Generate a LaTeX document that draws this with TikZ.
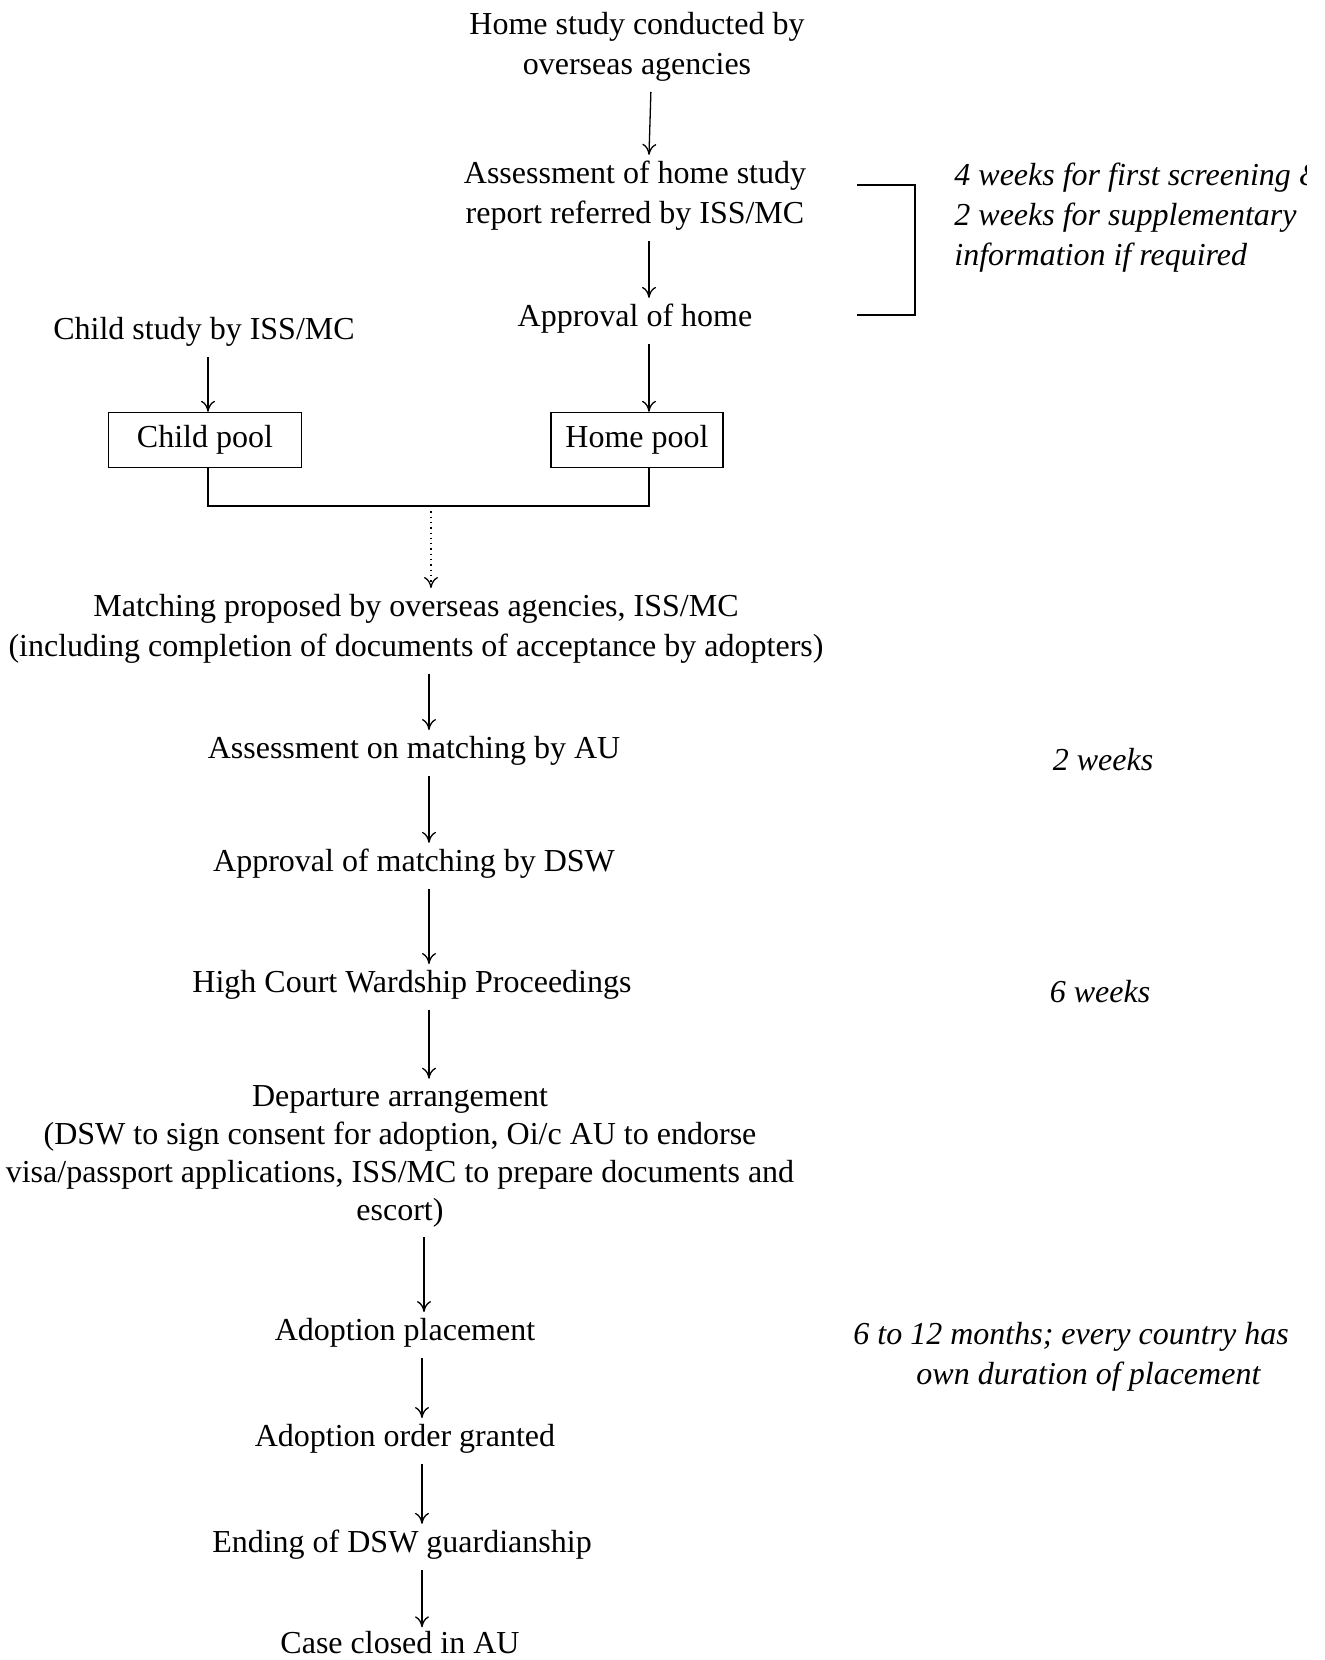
\documentclass[tikz,border=0pt]{standalone}
\usepackage{fontspec}
\setmainfont{Liberation Serif}
\usetikzlibrary{arrows.meta}
\begin{document}
\begin{tikzpicture}[x=0.5pt,y=-0.5pt,
  every node/.style={font=\fontsize{16}{20}\selectfont, inner sep=3pt},
  txt/.style={align=center},
  note/.style={font=\fontsize{16}{20}\selectfont\itshape},
  pool/.style={draw, line width=0.7pt, minimum height=27.5pt},
  arr/.style={-{To[length=5.5pt,width=7pt]}, line width=0.65pt, shorten <=2pt},
  link/.style={line width=0.7pt}]
\useasboundingbox (0,0) rectangle (1325,1660);
% nodes
\node[txt] (home) at (637,47) {Home study conducted by\\overseas agencies};
\node[txt] (assess) at (635,196) {Assessment of home study\\report referred by ISS/MC};
\node (approve) at (635,319) {Approval of home};
\node (child) at (204,332) {Child study by ISS/MC};
\node[pool, minimum width=96.5pt] (cpool) at (205,440) {Child pool};
\node[pool, minimum width=86pt] (hpool) at (637,440) {Home pool};
\node[txt] (match) at (416,629) {Matching proposed by overseas agencies, ISS/MC\\(including completion of documents of acceptance by adopters)};
\node (amatch) at (414,751) {Assessment on matching by AU};
\node (apmatch) at (414,864) {Approval of matching by DSW};
\node (court) at (412,985) {High Court Wardship Proceedings};
\node[txt, font=\fontsize{16}{19}\selectfont] (depart) at (400,1156) {Departure arrangement\\(DSW to sign consent for adoption, Oi/c AU to endorse\\visa/passport applications, ISS/MC to prepare documents and\\escort)};
\node (place) at (405,1333) {Adoption placement};
\node (order) at (405,1439) {Adoption order granted};
\node (ending) at (402,1545) {Ending of DSW guardianship};
\node[inner sep=1pt] (closed) at (400,1643) {Case closed in AU};
% notes
\begin{scope}
\clip (900,150) rectangle (1306,280);
\node[note, align=left, anchor=west] (n1) at (948,218) {4 weeks for first screening \&\\2 weeks for supplementary\\information if required};
\end{scope}
\node[note] (n2) at (1103,760) {2 weeks};
\node[note] (n3) at (1100,992) {6 weeks};
\node[note, align=left, anchor=west] (n4) at (847,1357) {6 to 12 months; every country has\\\hspace*{31.5pt}own duration of placement};
% bracket
\coordinate (b1) at (857,185);
\coordinate (b2) at (857,315);
\draw[link] (b1) -- ++(58,0) |- (b2);
% arrows
\draw[arr] ([xshift=7pt]home.south) -- ([xshift=7pt]assess.north);
\draw[arr] ([xshift=7pt]assess.south) -- ([xshift=7pt]approve.north);
\draw[arr] ([xshift=2pt]child.south) -- ([xshift=1.5pt]cpool.north);
\draw[arr] ([xshift=7pt]approve.south) -- ([xshift=6pt]hpool.north);
\coordinate (m) at (431,506);
\draw[link] ([xshift=1.5pt]cpool.south) |- (m) -| ([xshift=6pt]hpool.south);
\draw[arr, dotted, shorten <=0pt] (m) -- ([xshift=7.5pt]match.north);
\draw[arr] ([xshift=6.5pt]match.south) -- ([xshift=7.5pt]amatch.north);
\draw[arr] ([xshift=7.5pt]amatch.south) -- ([xshift=7.5pt]apmatch.north);
\draw[arr] ([xshift=7.5pt]apmatch.south) -- ([xshift=8.5pt]court.north);
\draw[arr] ([xshift=8.5pt]court.south) -- ([xshift=14.5pt]depart.north);
\draw[arr] ([xshift=12pt]depart.south) -- ([xshift=9.5pt]place.north);
\draw[arr] ([xshift=8.5pt]place.south) -- ([xshift=8.5pt]order.north);
\draw[arr] ([xshift=8.5pt]order.south) -- ([xshift=10pt]ending.north);
\draw[arr, shorten >=1pt] ([xshift=10pt]ending.south) -- ([xshift=11pt]closed.north);
\end{tikzpicture}
\end{document}
